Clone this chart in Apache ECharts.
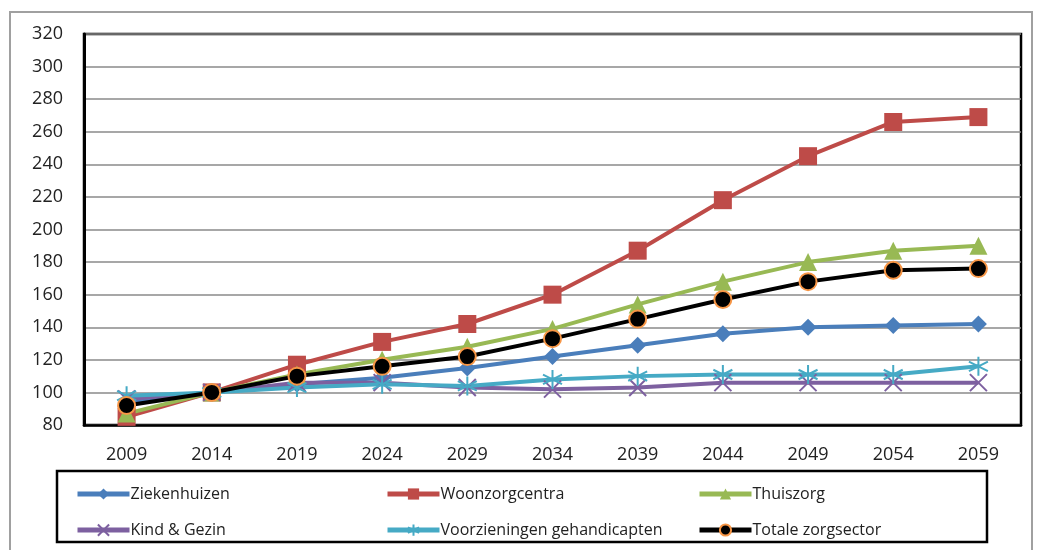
<!DOCTYPE html>
<html><head><meta charset="utf-8">
<script src="https://cdn.jsdelivr.net/npm/echarts@6/dist/echarts.min.js"></script>
<style>html,body{margin:0;padding:0;background:#fff}#c{width:1047px;height:550px}</style>
</head><body><div id="c"></div>
<script>
const years = ['2009','2014','2019','2024','2029','2034','2039','2044','2049','2054','2059'];
const ziekenhuizen = [94,100,105,109,115,122,129,136,140,141,142];
const woonzorgcentra = [85,100,117,131,142,160,187,218,245,266,269];
const thuiszorg = [87,100,111,120,128,139,154,168,180,187,190];
const kindGezin = [96,100,106,106,103,102,103,106,106,106,106];
const gehandicapten = [98,100,103,105,104,108,110,111,111,111,116];
const totaal = [92,100,110,116,122,133,145,157,168,175,176];

const font = '"Open Sans", "Liberation Sans", sans-serif';
const star = 'path://M0,-10L0,10M-9,-5L9,5M-9,5L9,-5';
const cross = 'path://M-9,-9L9,9M-9,9L9,-9';

function mk(name, data, color, symbol, size, extra) {
  return Object.assign({
    name, type: 'line', data, symbol, symbolSize: size,
    lineStyle: { color, width: 4 },
    itemStyle: { color, borderColor: color, borderWidth: 0 },
    emphasis: { disabled: true }, animation: false
  }, extra || {});
}

const series = [
  mk('Ziekenhuizen', ziekenhuizen, '#4a7ebb', 'diamond', 17),
  mk('Woonzorgcentra', woonzorgcentra, '#be4b48', 'rect', 18),
  mk('Thuiszorg', thuiszorg, '#98b954', 'triangle', 18),
  mk('Kind & Gezin', kindGezin, '#7d60a0', cross, 17, { itemStyle: { color: 'none', borderColor: '#7d60a0', borderWidth: 2 } }),
  mk('Voorzieningen gehandicapten', gehandicapten, '#46aac5', star, 19, { itemStyle: { color: 'none', borderColor: '#46aac5', borderWidth: 2 } }),
  mk('Totale zorgsector', totaal, '#000000', 'circle', 17, { itemStyle: { color: '#000', borderColor: '#f79646', borderWidth: 2 } })
];

const legendBase = {
  orient: 'vertical', itemGap: 20, itemWidth: 52, itemHeight: 14,
  lineStyle: { width: 5 },
  textStyle: { fontFamily: font, fontSize: 16, color: '#222', padding: [0,0,0,-4] },
  selectedMode: false
};

const chart = echarts.init(document.getElementById('c'));
chart.setOption({
  animation: false,
  backgroundColor: '#fff',
  grid: { left: 84, top: 34, width: 937, height: 391, show: true, borderColor: '#000', borderWidth: 2.5, backgroundColor: 'transparent' },
  xAxis: {
    type: 'category', data: years, boundaryGap: true,
    axisLine: { lineStyle: { color: '#000', width: 2.5 } },
    axisTick: { show: false },
    axisLabel: { fontFamily: font, fontSize: 18, color: '#222', margin: 21 }
  },
  yAxis: {
    type: 'value', min: 80, max: 320, interval: 20,
    axisLine: { show: true, lineStyle: { color: '#000', width: 3 } },
    axisTick: { show: false },
    splitLine: { lineStyle: { color: '#8a8a8a', width: 1.5 } },
    axisLabel: { fontFamily: font, fontSize: 18, color: '#222', margin: 21 }
  },
  legend: [
    Object.assign({}, legendBase, { left: 70, top: 481, data: ['Ziekenhuizen', 'Kind & Gezin'] }),
    Object.assign({}, legendBase, { left: 380, top: 481, data: ['Woonzorgcentra', 'Voorzieningen gehandicapten'] }),
    Object.assign({}, legendBase, { left: 692, top: 481, data: ['Thuiszorg', 'Totale zorgsector'] })
  ],
  graphic: [
    { type: 'rect', shape: { x: 10, y: 12, width: 1022, height: 545 }, style: { fill: 'none', stroke: '#a0a0a0', lineWidth: 2 }, silent: true, z: -1 },
    { type: 'rect', shape: { x: 57, y: 471, width: 930, height: 71 }, style: { fill: 'none', stroke: '#000', lineWidth: 2.5 }, silent: true }
  ],
  series
});
</script></body></html>
